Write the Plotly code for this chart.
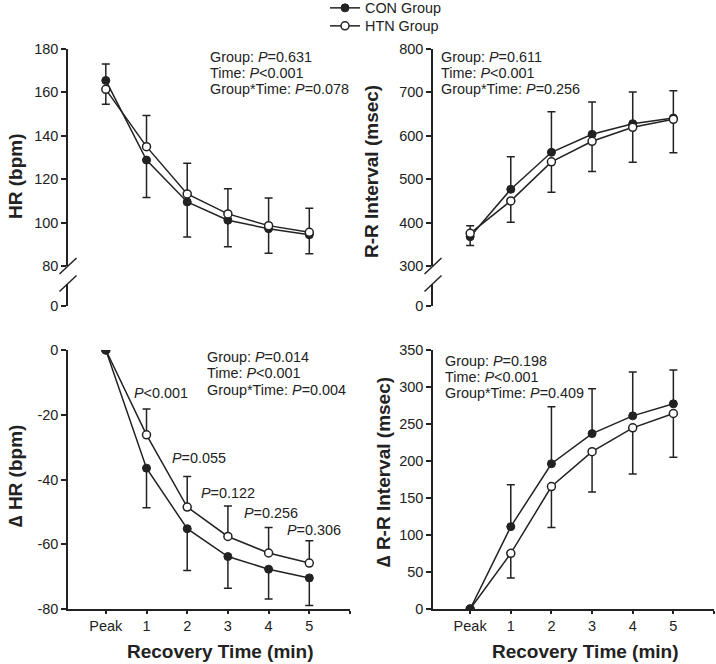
import plotly.graph_objects as go

W, H = 716, 664

# recovery time points
time_labels = ["Peak", "1", "2", "3", "4", "5"]
time_x = [0, 1, 2, 3, 4, 5]

# HR (bpm)
hr_con = [165.5, 128.8, 109.5, 101.1, 97.2, 94.4]
hr_htn = [161.4, 135.0, 113.2, 104.0, 98.6, 95.5]
hr_con_up = [7.6, 0, 0, 0, 0, 0]
hr_con_dn = [0, 17.2, 16.1, 12.2, 11.3, 8.7]
hr_htn_up = [0, 14.4, 14.1, 11.6, 12.7, 11.1]
hr_htn_dn = [6.9, 0, 0, 0, 0, 0]

# R-R interval (msec)
rr_con = [367.6, 476.7, 562.0, 603.4, 628.0, 641.0]
rr_htn = [375.3, 450.0, 540.0, 587.3, 619.5, 638.0]
rr_con_up = [0, 75.3, 93.6, 74.6, 73.0, 63.0]
rr_con_dn = [20.6, 0, 0, 0, 0, 0]
rr_htn_up = [17.7, 0, 0, 0, 0, 0]
rr_htn_dn = [0, 49.0, 70.0, 69.3, 80.5, 77.0]

# delta HR (bpm)
dhr_con = [0, -36.5, -55.2, -63.8, -67.7, -70.4]
dhr_htn = [0, -26.2, -48.5, -57.6, -62.7, -65.8]
dhr_con_up = [0, 0, 0, 0, 0, 0]
dhr_con_dn = [0, 12.2, 12.9, 9.8, 9.2, 8.5]
dhr_htn_up = [0, 8.0, 9.4, 9.4, 7.9, 6.9]
dhr_htn_dn = [0, 0, 0, 0, 0, 0]

# delta R-R interval (msec)
drr_con = [0, 111.3, 196.3, 237.0, 261.0, 277.3]
drr_htn = [0, 75.2, 165.5, 212.6, 244.8, 264.2]
drr_con_up = [0, 56.5, 77.0, 60.7, 59.2, 45.7]
drr_con_dn = [0, 0, 0, 0, 0, 0]
drr_htn_up = [0, 0, 0, 0, 0, 0]
drr_htn_dn = [0, 33.2, 55.5, 54.6, 62.4, 59.2]

# statistics text
hr_stats = ["=0.631", "<0.001", "=0.078"]
rr_stats = ["=0.611", "<0.001", "=0.256"]
dhr_stats = ["=0.014", "<0.001", "=0.004"]
drr_stats = ["=0.198", "<0.001", "=0.409"]
dhr_point_p = ["<0.001", "=0.055", "=0.122", "=0.256", "=0.306"]


def px(x):
    return x / W


def py(y):
    return 1 - y / H


FONT = "Liberation Sans, Arial, sans-serif"
INK = "#222222"

fig = go.Figure()


def con_trace(xa, ya, vals, up, dn, legend):
    return go.Scatter(
        x=time_x, y=vals, xaxis=xa, yaxis=ya, mode="lines+markers",
        name="CON Group", showlegend=legend, legend="legend",
        line=dict(color=INK, width=1.5),
        marker=dict(size=8, color=INK, line=dict(color=INK, width=1)),
        error_y=dict(type="data", array=up, arrayminus=dn,
                     color=INK, thickness=1.5, width=4))


def htn_trace(xa, ya, vals, up, dn, legend):
    return go.Scatter(
        x=time_x, y=vals, xaxis=xa, yaxis=ya, mode="lines+markers",
        name="HTN Group", showlegend=legend, legend="legend2",
        line=dict(color=INK, width=1.5),
        marker=dict(size=8, color="white", line=dict(color=INK, width=1.5)),
        error_y=dict(type="data", array=up, arrayminus=dn,
                     color=INK, thickness=1.5, width=4))


# top panels: open circles drawn over filled ones
fig.add_trace(con_trace("x", "y", hr_con, hr_con_up, hr_con_dn, True))
fig.add_trace(htn_trace("x", "y", hr_htn, hr_htn_up, hr_htn_dn, True))
fig.add_trace(con_trace("x2", "y3", rr_con, rr_con_up, rr_con_dn, False))
fig.add_trace(htn_trace("x2", "y3", rr_htn, rr_htn_up, rr_htn_dn, False))
# bottom panels: filled circle visible at the shared Peak point
fig.add_trace(htn_trace("x3", "y5", dhr_htn, dhr_htn_up, dhr_htn_dn, False))
fig.add_trace(con_trace("x3", "y5", dhr_con, dhr_con_up, dhr_con_dn, False))
fig.add_trace(htn_trace("x4", "y6", drr_htn, drr_htn_up, drr_htn_dn, False))
fig.add_trace(con_trace("x4", "y6", drr_con, drr_con_up, drr_con_dn, False))

# empty traces so the lower (broken) axis segments are drawn
fig.add_trace(go.Scatter(x=[], y=[], xaxis="x", yaxis="y2", showlegend=False))
fig.add_trace(go.Scatter(x=[], y=[], xaxis="x2", yaxis="y4", showlegend=False))

ax = dict(showline=True, linecolor=INK, linewidth=1.5, ticks="outside",
          tickcolor=INK, tickwidth=1.5, ticklen=5, showgrid=False,
          zeroline=False, tickfont=dict(size=14.5, color=INK))

left_dom = [px(68), px(350)]
right_dom = [px(433), px(714)]
left_rng = [-0.929, 6]
right_rng = [-0.914, 6]
up_dom = [py(266), py(49)]
low_dom = [py(306), py(283.5)]
bot_dom = [py(609), py(350)]

xt = dict(ax, ticklen=3, tickvals=[0, 1, 2, 3, 4, 5, 6],
          ticktext=time_labels + [""])

dhr_ticks = [-80, -60, -40, -20, 0]

fig.update_layout(
    xaxis=dict(domain=left_dom, range=left_rng, visible=False),
    xaxis2=dict(domain=right_dom, range=right_rng, visible=False),
    xaxis3=dict(xt, domain=left_dom, range=left_rng, anchor="y5"),
    xaxis4=dict(xt, domain=right_dom, range=right_rng, anchor="y6"),
    yaxis=dict(ax, domain=up_dom, range=[80, 180], tickvals=[80, 100, 120, 140, 160, 180], anchor="x"),
    yaxis2=dict(ax, domain=low_dom, range=[0, 10], tickvals=[0], anchor="x"),
    yaxis3=dict(ax, domain=up_dom, range=[300, 800], tickvals=[300, 400, 500, 600, 700, 800], anchor="x2"),
    yaxis4=dict(ax, domain=low_dom, range=[0, 10], tickvals=[0], anchor="x2"),
    yaxis5=dict(ax, domain=bot_dom, range=[-80, 0], tickvals=dhr_ticks,
                ticktext=[str(v) for v in dhr_ticks], anchor="x3"),
    yaxis6=dict(ax, domain=bot_dom, range=[0, 350], tickvals=list(range(0, 351, 50)), anchor="x4"),
)

# axis break marks
shapes = []
for axx in (68, 433):
    for yc in (266, 283.5):
        shapes.append(dict(type="line", xref="paper", yref="paper",
                           x0=px(axx - 8.5), y0=py(yc + 8), x1=px(axx + 8.5), y1=py(yc - 8),
                           line=dict(color=INK, width=1.5)))

annotations = []


def txt(x, y, text, size=14.4, bold=False, angle=0, anchor="left"):
    if bold:
        text = "<b>" + text + "</b>"
    annotations.append(dict(x=px(x), y=py(y), xref="paper", yref="paper", text=text,
                            showarrow=False, xanchor=anchor, yanchor="middle",
                            textangle=angle, font=dict(family=FONT, size=size, color=INK)))


def stats_block(x, ys, stats):
    names = ["Group: ", "Time: ", "Group*Time: "]
    for name, yy, s in zip(names, ys, stats):
        txt(x, yy, name + "<i>P</i>" + s.replace("<", "&lt;"))


stats_block(207.7, [56.7, 72.7, 89.3], hr_stats)
stats_block(439.3, [57.3, 72.7, 89.3], rr_stats)
stats_block(205, [357.3, 373.3, 390], dhr_stats)
stats_block(442.7, [360.7, 376.7, 392.7], drr_stats)

for (xx, yy), s in zip([(160.8, 393.3), (199.5, 458.3), (227.8, 493.3), (270.8, 513.3), (314, 530)], dhr_point_p):
    txt(xx, yy, "<i>P</i>" + s.replace("<", "&lt;"), anchor="center")

txt(15, 177, "HR (bpm)", 19, True, -90, "center")
txt(371, 172, "R-R Interval (msec)", 19, True, -90, "center")
txt(15, 476, "∆ HR (bpm)", 19, True, -90, "center")
txt(383, 472, "∆ R-R Interval (msec)", 19, True, -90, "center")
txt(220, 651, "Recovery Time (min)", 19, True, 0, "center")
txt(585, 651, "Recovery Time (min)", 19, True, 0, "center")

leg = dict(xanchor="left", yanchor="top", bgcolor="rgba(0,0,0,0)",
           font=dict(size=14.4), itemwidth=30)

fig.update_layout(
    width=W, height=H,
    margin=dict(l=0, r=0, t=0, b=0, autoexpand=False),
    paper_bgcolor="white", plot_bgcolor="white",
    font=dict(family=FONT, size=14, color=INK),
    shapes=shapes, annotations=annotations,
    legend=dict(leg, x=px(325), y=py(-8)),
    legend2=dict(leg, x=px(325), y=py(10)),
)

fig.write_html("out.html", config={"displayModeBar": False},
               post_script="document.body.style.margin='0';")
